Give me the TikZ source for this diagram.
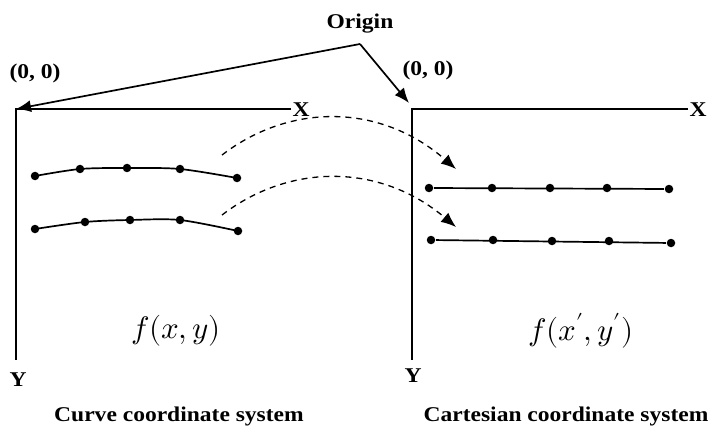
\documentclass[tikz,border=0pt]{standalone}
\usepackage{unicode-math}
\setmainfont{Liberation Serif}[FakeStretch=1.12]
\setmathfont{Latin Modern Math}
\usetikzlibrary{positioning, arrows.meta}

\begin{document}
\begin{tikzpicture}[x=1pt, y=-1pt, >={Latex[length=15pt,width=12pt]}, line width=1.7pt,
  dot/.style={circle, fill, inner sep=0pt, minimum size=8.5pt},
  lbl/.style={anchor=base, inner sep=0pt, font=\fontsize{21}{24}\selectfont\bfseries},
  fn/.style={font=\fontsize{31}{36}\selectfont}]
  \useasboundingbox (0,0) rectangle (723,433);

  % curve coordinate system
  \coordinate (O1) at (16,109);
  \coordinate (E1) at (16,360);
  \coordinate (A1) at (291,109);
  \node[lbl] (X1) at (301,117) {X};
  \node[lbl] (Y1) at (18,386) {Y};
  \draw (A1) -- (O1) -- (E1);
  \node[lbl] (Z1) at (35,79) {(0, 0)};
  \node[fn] (F1) at (176,331) {$f(x,y)$};
  \node[lbl] (T1) at (179,421) {Curve coordinate system};

  % cartesian coordinate system
  \coordinate (O2) at (412,109);
  \coordinate (E2) at (412,360);
  \coordinate (A2) at (688,109);
  \node[lbl] (X2) at (698,117) {X};
  \node[lbl] (Y2) at (413,382) {Y};
  \draw (A2) -- (O2) -- (E2);
  \node[lbl] (Z2) at (428,76) {(0, 0)};
  \node[fn] (F2) at (581,331) {$f(x',y')$};
  \node[lbl] (T2) at (566,421) {Cartesian coordinate system};

  % origin pointers
  \node[lbl] (org) at (360,29) {Origin};
  \coordinate (orgTip) at (360,44);
  \draw[->] (orgTip) -- (O1);
  \draw[->] (orgTip) -- (409,103);

  % curved rows
  \foreach \n/\x/\y in {1/35/176, 2/80/169, 3/127/168, 4/180/169, 5/237/178}
    \node[dot] (a\n) at (\x,\y) {};
  \foreach \n/\x/\y in {1/35/229, 2/85/222, 3/130/220, 4/180/220, 5/238/231}
    \node[dot] (b\n) at (\x,\y) {};
  \draw plot[smooth] coordinates {(a1) (a2) (a3) (a4) (a5)};
  \draw plot[smooth] coordinates {(b1) (b2) (b3) (b4) (b5)};

  % straight rows
  \foreach \n/\x/\y in {1/429/188, 2/492/188, 3/550/188, 4/607/188, 5/669/189}
    \node[dot] (c\n) at (\x,\y) {};
  \foreach \n/\x/\y in {1/431/240, 2/493/240, 3/552/241, 4/609/241, 5/671/243}
    \node[dot] (d\n) at (\x,\y) {};
  \draw (c1) -- (c5);
  \draw (d1) -- (d5);

  % mapping
  \coordinate (m1) at (222,155);
  \coordinate (n1) at (456,169);
  \coordinate (m2) at (222,215);
  \coordinate (n2) at (456,227);
  \draw[->, line width=1.3pt, dash pattern=on 6pt off 5pt] (m1) .. controls (290,103) and (380,103) .. (n1);
  \draw[->, line width=1.3pt, dash pattern=on 6pt off 5pt] (m2) .. controls (290,163) and (380,163) .. (n2);
\end{tikzpicture}
\end{document}
